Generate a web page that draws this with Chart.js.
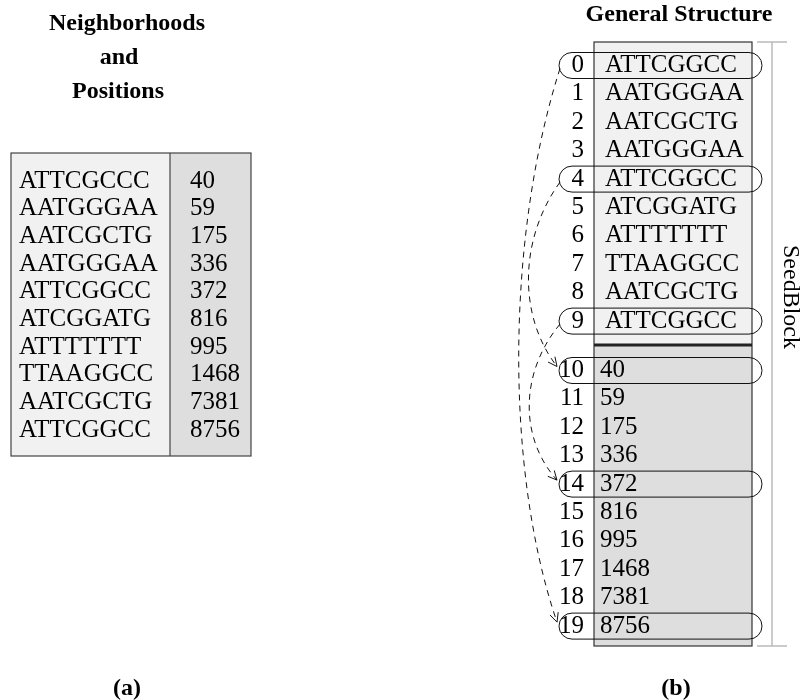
<!DOCTYPE html>
<html>
<head>
<meta charset="utf-8">
<script src="https://cdn.jsdelivr.net/npm/chart.js@4.4.1/dist/chart.umd.min.js"></script>
<style>
    html, body { margin: 0; padding: 0; background: #fff; }
    #wrap { width: 804px; height: 700px; }
</style>
</head>
<body>
<div id="wrap"><canvas id="diagram"></canvas></div>
<script>
// panel (a): neighborhoods and their positions
const neighborhoods = ["ATTCGCCC", "AATGGGAA", "AATCGCTG", "AATGGGAA", "ATTCGGCC",
    "ATCGGATG", "ATTTTTTT", "TTAAGGCC", "AATCGCTG", "ATTCGGCC"];
const positions = [40, 59, 175, 336, 372, 816, 995, 1468, 7381, 8756];

// panel (b): seed block, first half holds neighborhoods, second half positions
const blockSeeds = ["ATTCGGCC", "AATGGGAA", "AATCGCTG", "AATGGGAA", "ATTCGGCC",
    "ATCGGATG", "ATTTTTTT", "TTAAGGCC", "AATCGCTG", "ATTCGGCC"];
const blockPositions = [40, 59, 175, 336, 372, 816, 995, 1468, 7381, 8756];
const links = [[0, 19], [4, 10], [9, 14]];

const titleA = ["Neighborhoods", "and", "Positions"];
const titleB = "General Structure";
const sideLabel = "SeedBlock";
const captions = ["(a)", "(b)"];

// layout (diagram units = pixels of the 804x700 page)
const SERIF = '"Liberation Serif", "DejaVu Serif", serif';
const tableA = { left: 11, right: 251, split: 170, top: 153, bottom: 456, firstRow: 181, step: 27.7, seqX: 19, posX: 190 };
const block = { left: 594, right: 752, top: 42, bottom: 646, split: 345, firstRow: 65.5, secondRow: 370.5, step: 28.4,
    idxX: 584, seqX: 605, posX: 600, ovalLeft: 559, ovalRight: 762, ovalH: 26 };

function rowA(i) {
    return tableA.firstRow + i * tableA.step;
}

function rowB(i) {
    return i < blockSeeds.length
        ? block.firstRow + i * block.step
        : block.secondRow + (i - blockSeeds.length) * block.step;
}

const diagramPlugin = {
    id: "seedDiagram",
    afterDraw(chart) {
        const ctx = chart.ctx;
        const px = (v) => chart.scales.x.getPixelForValue(v);
        const py = (v) => chart.scales.y.getPixelForValue(v);

        ctx.save();
        ctx.fillStyle = "#000";
        ctx.textBaseline = "middle";

        // titles
        ctx.font = "bold 24px " + SERIF;
        ctx.textAlign = "center";
        const titleX = [127, 119, 118];
        titleA.forEach((t, i) => ctx.fillText(t, px(titleX[i]), py(24 + i * 34)));
        ctx.fillText(titleB, px(679), py(15));
        ctx.fillText(captions[0], px(127), py(689));
        ctx.fillText(captions[1], px(676), py(689));

        // table (a)
        ctx.fillStyle = "#f1f1f1";
        ctx.fillRect(px(tableA.left), py(tableA.top), px(tableA.split) - px(tableA.left), py(tableA.bottom) - py(tableA.top));
        ctx.fillStyle = "#dedede";
        ctx.fillRect(px(tableA.split), py(tableA.top), px(tableA.right) - px(tableA.split), py(tableA.bottom) - py(tableA.top));
        ctx.strokeStyle = "#444";
        ctx.lineWidth = 1.2;
        ctx.strokeRect(px(tableA.left), py(tableA.top), px(tableA.right) - px(tableA.left), py(tableA.bottom) - py(tableA.top));
        ctx.beginPath();
        ctx.moveTo(px(tableA.split), py(tableA.top));
        ctx.lineTo(px(tableA.split), py(tableA.bottom));
        ctx.stroke();

        ctx.fillStyle = "#000";
        ctx.font = "25px " + SERIF;
        ctx.textAlign = "left";
        neighborhoods.forEach((s, i) => {
            ctx.fillText(s, px(tableA.seqX), py(rowA(i)));
            ctx.fillText(String(positions[i]), px(tableA.posX), py(rowA(i)));
        });

        // seed block (b)
        ctx.fillStyle = "#f1f1f1";
        ctx.fillRect(px(block.left), py(block.top), px(block.right) - px(block.left), py(block.split) - py(block.top));
        ctx.fillStyle = "#dedede";
        ctx.fillRect(px(block.left), py(block.split), px(block.right) - px(block.left), py(block.bottom) - py(block.split));
        ctx.strokeStyle = "#333";
        ctx.lineWidth = 1.2;
        ctx.strokeRect(px(block.left), py(block.top), px(block.right) - px(block.left), py(block.bottom) - py(block.top));
        ctx.lineWidth = 3;
        ctx.strokeStyle = "#222";
        ctx.beginPath();
        ctx.moveTo(px(block.left), py(block.split));
        ctx.lineTo(px(block.right), py(block.split));
        ctx.stroke();

        // bracket
        ctx.strokeStyle = "#bbb";
        ctx.lineWidth = 1.5;
        ctx.beginPath();
        ctx.moveTo(px(757), py(block.top));
        ctx.lineTo(px(787), py(block.top));
        ctx.moveTo(px(772), py(block.top));
        ctx.lineTo(px(772), py(block.bottom));
        ctx.moveTo(px(757), py(block.bottom));
        ctx.lineTo(px(787), py(block.bottom));
        ctx.stroke();

        ctx.fillStyle = "#000";
        ctx.font = "25px " + SERIF;
        const total = blockSeeds.length + blockPositions.length;
        for (let i = 0; i < total; i++) {
            ctx.textAlign = "right";
            ctx.fillText(String(i), px(block.idxX), py(rowB(i)));
            ctx.textAlign = "left";
            if (i < blockSeeds.length) {
                ctx.fillText(blockSeeds[i], px(block.seqX), py(rowB(i)));
            } else {
                ctx.fillText(String(blockPositions[i - blockSeeds.length]), px(block.posX), py(rowB(i)));
            }
        }

        ctx.save();
        ctx.translate(px(790), py(297));
        ctx.rotate(Math.PI / 2);
        ctx.textAlign = "center";
        ctx.font = "24px " + SERIF;
        ctx.fillText(sideLabel, 0, 0);
        ctx.restore();

        // ovals round linked rows
        ctx.strokeStyle = "#111";
        ctx.lineWidth = 1;
        const marked = new Set(links.flat());
        marked.forEach((i) => {
            const h = block.ovalH;
            ctx.beginPath();
            ctx.roundRect(px(block.ovalLeft), py(rowB(i)) - h / 2, px(block.ovalRight) - px(block.ovalLeft), h, h / 2);
            ctx.stroke();
        });

        // dashed links with open arrowheads
        links.forEach(([a, b]) => {
            const sx = px(block.ovalLeft + 1), sy = py(rowB(a)) + 3;
            const ex = px(block.ovalLeft - 2), ey = py(rowB(b)) - 4;
            const bulge = 34 + (b - a);
            const c1x = sx - bulge, c1y = sy + (ey - sy) * 0.3;
            const c2x = ex - bulge, c2y = sy + (ey - sy) * 0.72;
            ctx.setLineDash([6, 5]);
            ctx.beginPath();
            ctx.moveTo(sx, sy);
            ctx.bezierCurveTo(c1x, c1y, c2x, c2y, ex, ey);
            ctx.stroke();
            ctx.setLineDash([]);
            const ang = Math.atan2(ey - c2y, ex - c2x);
            ctx.beginPath();
            [-0.45, 0.45].forEach((d) => {
                ctx.moveTo(ex, ey);
                ctx.lineTo(ex - 10 * Math.cos(ang + d), ey - 10 * Math.sin(ang + d));
            });
            ctx.stroke();
        });

        ctx.restore();
    },
};

new Chart(document.getElementById("diagram"), {
    type: "scatter",
    data: { datasets: [{ data: [], pointRadius: 0 }] },
    options: {
        responsive: true,
        maintainAspectRatio: false,
        animation: false,
        layout: { padding: 0 },
        plugins: {
            legend: { display: false },
            tooltip: { enabled: false },
        },
        scales: {
            x: { type: "linear", min: 0, max: 804, display: false },
            y: { type: "linear", min: 0, max: 700, reverse: true, display: false },
        },
    },
    plugins: [diagramPlugin],
});
</script>
</body>
</html>
